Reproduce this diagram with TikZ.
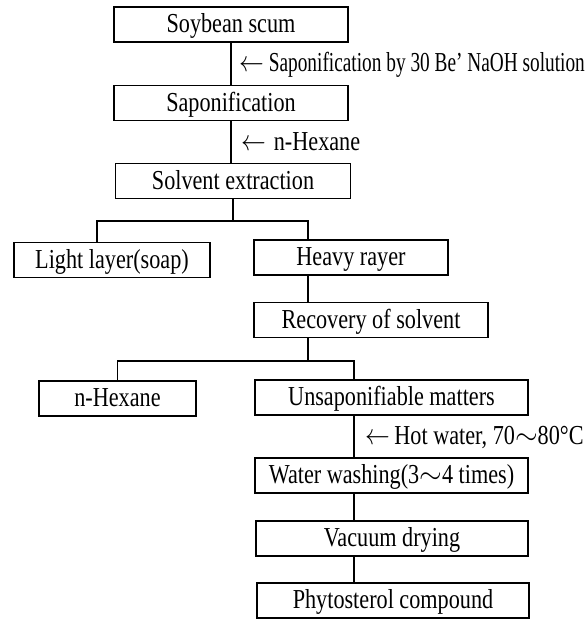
\documentclass[tikz,border=0pt]{standalone}
\usepackage{fontspec}
\setmainfont{Liberation Serif}[FakeStretch=0.81]
\usetikzlibrary{calc}
\newcommand{\feedarrow}{\scalebox{0.85}[1]{$\leftarrow$}}

\begin{document}
\begin{tikzpicture}[
  box/.style={draw, line width=1pt, inner sep=0pt, minimum height=0.875cm, text height=11.5pt, text depth=0pt, font=\fontsize{19.5}{23}\selectfont},
  note/.style={anchor=west, inner sep=0pt, text height=11.5pt, text depth=0pt, font=\fontsize{19.5}{23}\selectfont},
  flow/.style={line width=1pt}
]
\useasboundingbox (0,0) rectangle (14.675,15.475);

% main line
\node (SOY) at (5.775,14.86) [box, minimum width=5.85cm] {Soybean scum};
\node (SAPO) at (5.775,12.9) [box, minimum width=5.85cm] {Saponification};
\node (SOLV) at (5.825,10.95) [box, minimum width=5.875cm] {Solvent extraction};
\node (LIGHT) at (2.8,8.975) [box, minimum width=4.9cm] {Light layer(soap)};
\node (HEAVY) at (8.775,9.04) [box, minimum width=4.85cm] {Heavy rayer};
\node (RECOV) at (9.275,7.475) [box, minimum width=5.85cm] {Recovery of solvent};
\node (HEX) at (2.9375,5.51) [box, minimum width=3.925cm] {n-Hexane};
\node (UNSAP) at (9.7875,5.54) [box, minimum width=6.825cm] {Unsaponifiable matters};
\node (WASH) at (9.7875,3.59) [box, minimum width=6.825cm] {Water washing(3$\sim$4 times)};
\node (VAC) at (9.8,2.01) [box, minimum width=6.8cm] {Vacuum drying};
\node (PHYTO) at (9.825,0.465) [box, minimum width=6.8cm] {Phytosterol compound};

% added reagents
\node (N1) at (5.98,13.9) [note] {\feedarrow\,\scalebox{0.87}[1]{Saponification by 30 Be’ NaOH solution}};
\node (N2) at (6.03,11.925) [note] {\feedarrow\;n-Hexane};
\node (N3) at (9.12,4.575) [note] {\feedarrow\,Hot water, 70$\sim$80°C};

\draw[flow] (SOY) -- (SAPO);
\draw[flow] (SAPO.south) -- (SAPO.south |- SOLV.north);

% split after extraction
\coordinate (B1) at (2.425,9.95); \coordinate (B2) at (7.7,9.95);
\draw[flow] (SOLV.south) -- (SOLV.south |- B1);
\draw[flow] (LIGHT.north -| B1) |- (B2) -- (HEAVY.north -| B2);
\draw[flow] (HEAVY.south -| B2) -- (RECOV.north -| B2);

% split after recovery
\coordinate (B4) at (8.85,6.45);
\draw[flow] (RECOV.south -| B2) -- (B2 |- B4);
\draw[flow] (HEX.north) |- (B4) -- (UNSAP.north -| B4);
\draw[flow] (UNSAP.south -| B4) -- (WASH.north -| B4);
\draw[flow] (WASH.south -| B4) -- (VAC.north -| B4);
\draw[flow] (VAC.south -| B4) -- (PHYTO.north -| B4);

\end{tikzpicture}
\end{document}
